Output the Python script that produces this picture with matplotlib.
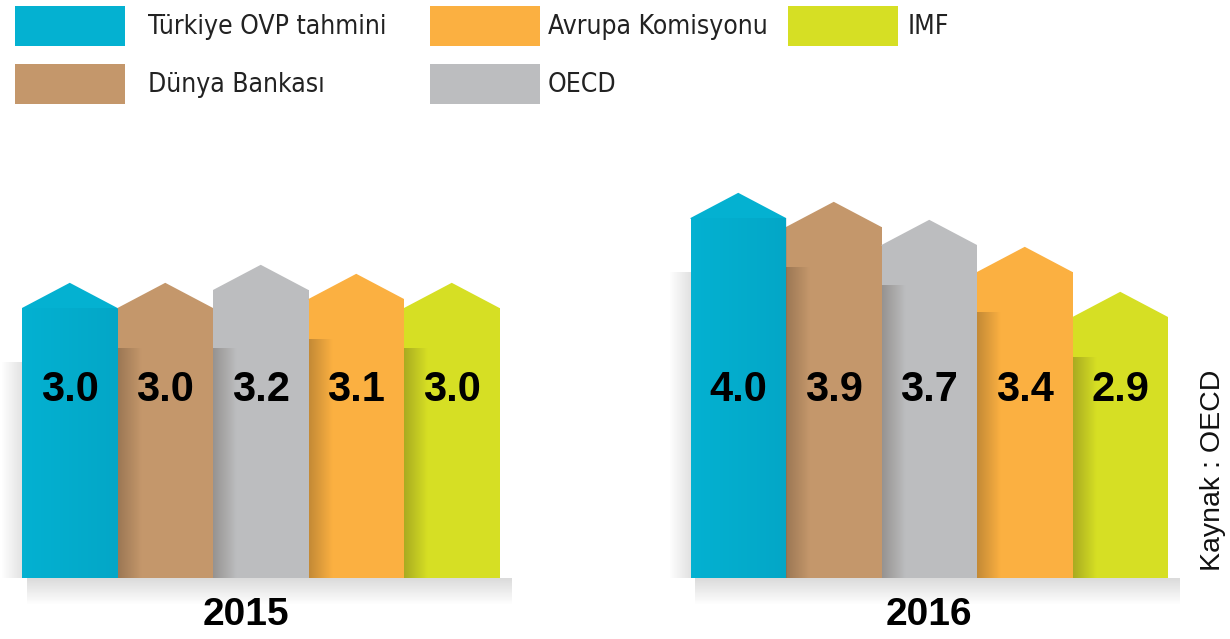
import matplotlib
matplotlib.use("Agg")
import matplotlib.pyplot as plt
from matplotlib.patches import Polygon, Rectangle
import numpy as np

# DATA
years = ["2015", "2016"]
sources = ["Türkiye OVP tahmini", "Dünya Bankası", "OECD", "Avrupa Komisyonu", "IMF"]
vals_2015 = [3.0, 3.0, 3.2, 3.1, 3.0]
vals_2016 = [4.0, 3.9, 3.7, 3.4, 2.9]
colors = ["#04b1d1", "#c4976b", "#bcbdbf", "#fbb041", "#d6df24"]
source_note = "Kaynak : OECD"

# legend order as in the picture (row by row)
legend_order = [0, 3, 4, 1, 2]

W, H = 1230, 639
fig = plt.figure(figsize=(W / 100, H / 100), dpi=100)
ax = fig.add_axes([0, 0, 1, 1])
ax.axis("off")

px_x = 95.5   # pixels per x unit
px_y = 90.0   # pixels per y unit
left0 = 22    # pixel of first bar left edge
base = 578    # pixel of baseline (from top)
peak = 0.28   # height of the roof


def gradient(x0, x1, y0, y1, rgb, a0, a1, horizontal=True, z=3):
    n = 64
    a = np.linspace(a0, a1, n)
    img = np.zeros((1, n, 4)) if horizontal else np.zeros((n, 1, 4))
    img[..., :3] = rgb
    if horizontal:
        img[0, :, 3] = a
    else:
        img[:, 0, 3] = a[::-1]
    ax.imshow(img, extent=(x0, x1, y0, y1), aspect="auto",
              interpolation="bilinear", zorder=z, origin="lower")


groups = [vals_2015, vals_2016]
offsets = [0, 7]
for g, vals in enumerate(groups):
    xs = np.arange(len(vals)) + offsets[g]
    # shadow under the group
    gradient(xs[0] - 0.45, xs[-1] + 0.62, -0.3, 0, (0.35, 0.35, 0.35), 0.22, 0.0,
             horizontal=False, z=1)
    # shadow left of first bar
    gradient(xs[0] - 0.72, xs[0] - 0.5, 0, vals[0] - 0.6, (0.35, 0.35, 0.35), 0.0, 0.18, z=1)
    for i, (x, v) in enumerate(zip(xs, vals)):
        ax.bar(x, v, width=1.0, color=colors[i], zorder=2, linewidth=0)
        roof = Polygon([(x - 0.5, v - 0.01), (x - 0.5, v), (x, v + peak),
                        (x + 0.5, v), (x + 0.5, v - 0.01)],
                       closed=True, facecolor=colors[i], edgecolor="none", zorder=2)
        ax.add_patch(roof)
        if i == 0:
            # slight horizontal shading on the first bar
            gradient(x - 0.5, x + 0.5, 0, v, (0.0, 0.35, 0.5), 0.0, 0.12, z=2.5)
        else:
            top = min(vals[i - 1], v) - 0.45
            gradient(x - 0.5, x - 0.25, 0, top, (0.2, 0.15, 0.1), 0.28, 0.0, z=2.5)
        ax.text(x, 2.09, f"{v:.1f}", ha="center", va="center", fontsize=30,
                fontweight="bold", family=["Liberation Sans", "DejaVu Sans"],
                color="black", zorder=5)
    ax.text(xs.mean() - (0.15 if g == 0 else 0), -0.41, years[g], ha="center",
            va="center", fontsize=28, fontweight="bold",
            family=["Liberation Sans", "DejaVu Sans"], color="black", zorder=5)

ax.set_xlim(-0.5 - left0 / px_x, -0.5 + (W - left0) / px_x)
ax.set_ylim(-(H - base) / px_y, base / px_y)

# legend drawn by hand
leg_box = [(15, 6), (430, 6), (788, 6), (15, 64), (430, 64)]
leg_text = [148, 548, 908, 148, 548]
for (lx, ly), tx, k in zip(leg_box, leg_text, legend_order):
    fig.patches.append(Rectangle((lx / W, 1 - (ly + 40) / H), 110 / W, 40 / H,
                                 transform=fig.transFigure, facecolor=colors[k],
                                 edgecolor="none"))
    fig.text(tx / W, 1 - (ly + 21) / H, sources[k], ha="left", va="center",
             fontsize=19, fontstretch="condensed",
             family=["DejaVu Sans"], color="#222222")

fig.text(1213 / W, 1 - 470 / H, source_note, rotation=90, ha="center", va="center",
         fontsize=20.5, family=["Liberation Sans", "DejaVu Sans"], color="#111111")

fig.savefig("out.png", dpi=100)
